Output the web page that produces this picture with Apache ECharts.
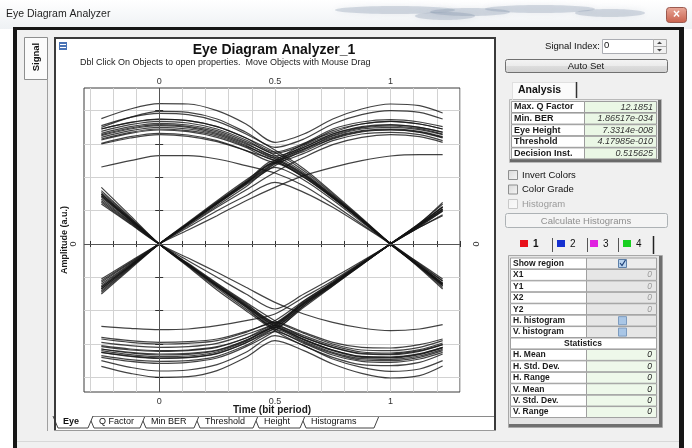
<!DOCTYPE html>
<html>
<head>
<meta charset="utf-8">
<script src="https://cdn.jsdelivr.net/npm/echarts@6/dist/echarts.min.js"></script>
<style>
html,body{margin:0;padding:0;background:#fff;}
#chart{width:692px;height:448px;}
</style>
</head>
<body>
<div id="chart"></div>
<script>
// Sample instants of every trace, in bit periods
const timeSamples = [-0.25, -0.125, 0, 0.125, 0.25, 0.375, 0.5, 0.625, 0.75, 0.875, 1, 1.125, 1.225];

// Traces grouped by the bit pattern they carry (previous, current, next)
const holdHigh = [
  [3.76, 4.05, 4.21, 4.2, 4.0, 3.6, 3.05, 3.3, 3.75, 4.05, 4.2, 4.15, 3.93],
  [3.5, 3.8, 3.98, 3.95, 3.75, 3.35, 2.9, 3.15, 3.6, 3.88, 4.0, 3.95, 3.75],
  [3.38, 3.58, 3.68, 3.63, 3.45, 3.12, 2.72, 2.98, 3.4, 3.6, 3.68, 3.6, 3.45],
  [3.28, 3.48, 3.58, 3.53, 3.36, 3.03, 2.64, 2.9, 3.3, 3.5, 3.57, 3.5, 3.36],
  [3.2, 3.4, 3.5, 3.45, 3.28, 2.96, 2.58, 2.85, 3.24, 3.45, 3.5, 3.43, 3.28],
  [3.12, 3.32, 3.42, 3.37, 3.2, 2.9, 2.52, 2.78, 3.17, 3.38, 3.43, 3.36, 3.2],
  [3.02, 3.22, 3.32, 3.27, 3.1, 2.8, 2.45, 2.72, 3.1, 3.3, 3.35, 3.28, 3.1],
  [3.45, 3.64, 3.74, 3.7, 3.52, 3.18, 2.76, 3.02, 3.45, 3.66, 3.73, 3.66, 3.52]
];
const highThenFall = [
  [2.31, 2.5, 2.65, 2.65, 2.55, 2.35, 2.13, 1.75, 1.2, 0.6, 0.02, -0.6, -1.1],
  [3.25, 3.45, 3.55, 3.5, 3.32, 3.0, 2.6, 2.1, 1.42, 0.72, 0.0, -0.65, -1.18],
  [3.0, 3.18, 3.28, 3.23, 3.07, 2.8, 2.5, 2.0, 1.38, 0.7, -0.02, -0.68, -1.22],
  [3.45, 3.65, 3.75, 3.7, 3.52, 3.18, 2.75, 2.2, 1.5, 0.76, 0.01, -0.7, -1.3],
  [3.15, 3.35, 3.45, 3.4, 3.24, 2.93, 2.56, 2.06, 1.4, 0.71, 0.0, -0.72, -1.35],
  [3.32, 3.52, 3.62, 3.57, 3.4, 3.07, 2.66, 2.14, 1.46, 0.74, 0.0, -0.67, -1.25],
  [3.55, 3.8, 3.92, 3.88, 3.68, 3.3, 2.82, 2.26, 1.54, 0.78, 0.01, -0.66, -1.2]
];
const riseThenHigh = [
  [-1.05, -0.52, 0.0, 0.42, 0.85, 1.3, 1.7, 2.05, 2.3, 2.5, 2.64, 2.68, 2.68],
  [-1.25, -0.62, 0.0, 0.6, 1.2, 1.8, 2.4, 2.85, 3.2, 3.4, 3.45, 3.38, 3.22],
  [-1.4, -0.7, 0.0, 0.62, 1.25, 1.85, 2.45, 2.95, 3.3, 3.52, 3.58, 3.5, 3.35],
  [-1.15, -0.57, 0.0, 0.55, 1.1, 1.62, 2.15, 2.6, 2.98, 3.2, 3.28, 3.22, 3.05],
  [-1.5, -0.75, 0.0, 0.65, 1.3, 1.92, 2.5, 3.0, 3.35, 3.6, 3.68, 3.6, 3.45],
  [-1.3, -0.65, 0.0, 0.6, 1.2, 1.78, 2.35, 2.82, 3.15, 3.36, 3.42, 3.35, 3.18],
  [-1.35, -0.68, 0.0, 0.61, 1.23, 1.83, 2.42, 2.9, 3.26, 3.48, 3.54, 3.46, 3.3]
];
const riseThenFall = [
  [-1.3, -0.65, 0.0, 0.6, 1.22, 1.82, 2.42, 2.0, 1.38, 0.7, 0.0, -0.65, -1.18],
  [-1.2, -0.6, 0.0, 0.58, 1.15, 1.72, 2.3, 1.92, 1.32, 0.66, 0.01, -0.62, -1.12],
  [-1.45, -0.72, 0.0, 0.63, 1.27, 1.88, 2.5, 2.08, 1.45, 0.74, 0.0, -0.68, -1.25],
  [-1.1, -0.55, 0.0, 0.5, 1.0, 1.45, 1.85, 1.55, 1.1, 0.56, 0.0, -0.58, -1.05],
  [-1.35, -0.67, 0.0, 0.61, 1.24, 1.85, 2.45, 2.03, 1.41, 0.72, 0.0, -0.66, -1.2]
];
const holdLow = [
  [-3.67, -3.88, -4.0, -3.98, -3.8, -3.4, -2.9, -3.2, -3.6, -3.88, -4.02, -3.95, -3.66],
  [-3.5, -3.7, -3.81, -3.78, -3.62, -3.25, -2.75, -3.05, -3.45, -3.7, -3.82, -3.75, -3.5],
  [-3.35, -3.47, -3.52, -3.5, -3.37, -3.04, -2.63, -2.98, -3.33, -3.52, -3.55, -3.45, -3.25],
  [-3.25, -3.37, -3.43, -3.41, -3.29, -2.97, -2.56, -2.92, -3.25, -3.44, -3.46, -3.36, -3.16],
  [-3.15, -3.27, -3.33, -3.31, -3.2, -2.9, -2.5, -2.86, -3.18, -3.37, -3.39, -3.29, -3.1],
  [-3.05, -3.15, -3.2, -3.18, -3.08, -2.82, -2.45, -2.8, -3.1, -3.28, -3.3, -3.2, -3.02],
  [-2.85, -2.95, -3.0, -2.98, -2.9, -2.65, -2.35, -2.65, -2.95, -3.1, -3.12, -3.02, -2.85],
  [-3.2, -3.32, -3.38, -3.36, -3.24, -2.92, -2.52, -2.88, -3.2, -3.4, -3.42, -3.32, -3.12]
];
const lowThenRise = [
  [-2.47, -2.53, -2.57, -2.55, -2.45, -2.3, -2.1, -1.6, -1.1, -0.55, 0.0, 0.5, 0.85],
  [-3.15, -3.25, -3.3, -3.28, -3.18, -2.88, -2.45, -1.8, -1.2, -0.6, 0.0, 0.58, 1.05],
  [-2.95, -3.05, -3.1, -3.08, -2.98, -2.72, -2.38, -1.75, -1.17, -0.58, 0.01, 0.6, 1.12],
  [-3.4, -3.52, -3.58, -3.55, -3.42, -3.08, -2.6, -1.9, -1.26, -0.62, 0.0, 0.62, 1.2],
  [-2.8, -2.9, -2.95, -2.93, -2.85, -2.62, -2.3, -1.7, -1.14, -0.57, 0.0, 0.55, 0.98],
  [-3.25, -3.36, -3.42, -3.4, -3.28, -2.96, -2.52, -1.85, -1.22, -0.61, 0.0, 0.6, 1.1],
  [-3.08, -3.18, -3.22, -3.2, -3.1, -2.82, -2.42, -1.78, -1.19, -0.59, 0.0, 0.57, 1.02]
];
const fallThenLow = [
  [1.2, 0.6, 0.0, -0.42, -0.85, -1.3, -1.75, -2.1, -2.35, -2.52, -2.6, -2.55, -2.42],
  [1.45, 0.72, 0.0, -0.62, -1.25, -1.85, -2.42, -2.8, -3.1, -3.3, -3.32, -3.22, -3.02],
  [1.6, 0.8, 0.0, -0.66, -1.32, -1.95, -2.55, -2.95, -3.28, -3.48, -3.5, -3.4, -3.2],
  [1.3, 0.65, 0.0, -0.58, -1.18, -1.75, -2.3, -2.68, -3.0, -3.18, -3.2, -3.1, -2.9],
  [1.7, 0.85, 0.0, -0.68, -1.38, -2.0, -2.6, -3.05, -3.4, -3.62, -3.65, -3.55, -3.3],
  [1.5, 0.75, 0.0, -0.63, -1.27, -1.88, -2.47, -2.86, -3.18, -3.38, -3.4, -3.3, -3.1],
  [1.4, 0.7, 0.0, -0.61, -1.22, -1.81, -2.38, -2.75, -3.05, -3.24, -3.27, -3.17, -2.97]
];
const fallThenRise = [
  [1.45, 0.72, 0.0, -0.62, -1.24, -1.83, -2.4, -1.77, -1.2, -0.6, 0.0, 0.55, 1.05],
  [1.35, 0.67, 0.0, -0.6, -1.2, -1.78, -2.35, -1.72, -1.16, -0.58, 0.0, 0.52, 1.0],
  [1.55, 0.78, 0.0, -0.64, -1.28, -1.9, -2.5, -1.85, -1.25, -0.63, 0.01, 0.62, 1.25],
  [1.25, 0.62, 0.0, -0.5, -1.0, -1.5, -1.95, -1.5, -1.02, -0.52, 0.0, 0.5, 0.88],
  [1.5, 0.75, 0.0, -0.63, -1.26, -1.86, -2.45, -1.81, -1.22, -0.61, 0.0, 0.58, 1.12]
];

// Axis ticks and labels
const timeTicks = [-0.3, -0.2, -0.1, 0, 0.1, 0.2, 0.3, 0.4, 0.5, 0.6, 0.7, 0.8, 0.9, 1, 1.1, 1.2, 1.3];
const timeLabels = [0, 0.5, 1];
const ampTicks = [-4, -3, -2, -1, 0, 1, 2, 3, 4];
const ampLabels = [0];

// Side panel contents
const analysisNames = ['Max. Q Factor', 'Min. BER', 'Eye Height', 'Threshold', 'Decision Inst.'];
const analysisValues = ['12.1851', '1.86517e-034', '7.3314e-008', '4.17985e-010', '0.515625'];
const optionNames = ['Invert Colors', 'Color Grade', 'Histogram'];
const regionTabs = ['1', '2', '3', '4'];
const regionColors = ['#e8101a', '#1530d0', '#e020e0', '#18d020'];
const regionNames = ['X1', 'Y1', 'X2', 'Y2'];
const regionValues = ['0', '0', '0', '0'];
const histNames = ['H. histogram', 'V. histogram'];
const statNames = ['H. Mean', 'H. Std. Dev.', 'H. Range', 'V. Mean', 'V. Std. Dev.', 'V. Range'];
const statValues = ['0', '0', '0', '0', '0', '0'];
const viewTabs = ['Eye', 'Q Factor', 'Min BER', 'Threshold', 'Height', 'Histograms'];

const FONT = '"Liberation Sans", Arial, sans-serif';
const ui = [];
function box(x, y, w, h, fill, stroke, z, extra) {
  const o = stroke ? 0.5 : 0;
  ui.push(Object.assign({
    type: 'rect', silent: true, z: z == null ? 10 : z,
    shape: { x: x + o, y: y + o, width: w, height: h },
    style: { fill: fill || 'none', stroke: stroke || null, lineWidth: 1 }
  }, extra || {}));
}
function seg(x1, y1, x2, y2, color, w, z) {
  ui.push({ type: 'line', silent: true, z: z == null ? 12 : z,
    shape: { x1: x1, y1: y1, x2: x2, y2: y2 },
    style: { stroke: color, lineWidth: w || 1 } });
}
function txt(x, y, text, size, color, align, weight, extra, italic) {
  ui.push(Object.assign({
    type: 'text', silent: true, z: 20, x: x, y: y,
    style: {
      text: text, fill: color || '#000',
      font: (italic ? 'italic ' : '') + (weight || 'normal') + ' ' + size + 'px ' + FONT,
      align: align || 'left', textAlign: align || 'left',
      verticalAlign: 'middle', textVerticalAlign: 'middle'
    }
  }, extra || {}));
}
function checkbox(x, y, enabled) {
  box(x, y, 9, 9, new echarts.graphic.LinearGradient(0, 0, 1, 1, [
    { offset: 0, color: enabled ? '#d8d8d8' : '#f2f2f2' },
    { offset: 1, color: enabled ? '#f6f6f6' : '#fafafa' }]), enabled ? '#8e8f8f' : '#c8c8c8', 14);
}

// Window frame and title bar
box(0, 0, 692, 29, new echarts.graphic.LinearGradient(0, 0, 0, 1, [
  { offset: 0, color: '#ffffff' }, { offset: 1, color: '#eef1f4' }]), null, -20);
[[395, 10, 60], [470, 12, 40], [540, 9, 55], [610, 13, 35], [445, 16, 30]].forEach(function (s) {
  ui.push({ type: 'ellipse', silent: true, z: -19,
    shape: { cx: s[0], cy: s[1], rx: s[2], ry: 4 },
    style: { fill: 'rgba(120,135,160,0.28)', shadowBlur: 6, shadowColor: 'rgba(120,135,160,0.4)' } });
});
txt(6, 14, 'Eye Diagram Analyzer', 10.5, '#1e1e1e');
ui.push({ type: 'rect', silent: true, z: 14, shape: { x: 666.5, y: 7.5, width: 20, height: 15, r: 3 },
  style: { fill: new echarts.graphic.LinearGradient(0, 0, 0, 1, [
    { offset: 0, color: '#e9a99a' }, { offset: 1, color: '#c8604c' }]), stroke: '#9b5a50', lineWidth: 1 } });
txt(676.5, 15, '×', 12, '#ffffff', 'center', 'bold');
box(13, 28, 671, 420, '#f0f0f0', null, -20);
box(13, 28, 4, 420, '#161616', null, -18);
box(679, 28, 5, 420, '#161616', null, -18);
box(13, 27, 671, 3, '#161616', null, -18);
box(17, 441, 662, 1, '#d8d8d8', null, -18);

// Vertical "Signal" tab
box(24, 37, 23, 42, '#fbfbfb', '#8e8f8f', 5);
seg(47.5, 79, 47.5, 431, '#a0a0a0', 1, 5);
txt(36, 57, 'Signal', 9.5, '#111', 'center', 'bold', { rotation: Math.PI / 2 });

// Plot panel
box(54, 37, 442, 394, '#ffffff', null, -15);
box(54, 37, 442, 2, '#3a3a3a', null, 16);
box(54, 37, 2, 394, '#3a3a3a', null, 16);
box(494, 37, 2, 394, '#3a3a3a', null, 16);
box(54, 430, 442, 1, '#9a9a9a', null, 16);
box(59, 42, 8, 8, '#4a73b5', null, 16);
box(60, 44, 6, 1, '#ffffff', null, 17);
box(60, 47, 6, 1, '#ffffff', null, 17);
txt(274, 50, 'Eye Diagram Analyzer_1', 14, '#111', 'center', 'bold');
txt(80, 63, 'Dbl Click On Objects to open properties.  Move Objects with Mouse Drag', 9, '#222');

// View tabs along the bottom of the plot panel
const tabEdges = [55, 91, 143, 197, 256, 303, 377];
box(56, 416, 438, 13, '#ffffff', null, 5);
seg(56, 416.5, 494, 416.5, '#8a8a8a', 1, 12);
viewTabs.forEach(function (name, i) {
  const a = tabEdges[i], b = tabEdges[i + 1];
  ui.push({ type: 'polyline', silent: true, z: i === 0 ? 14 : 12 - i * 0.1,
    shape: { points: [[a - 2, 416], [a + 3, 428], [b - 3, 428], [b + 2, 416]] },
    style: { stroke: '#444', lineWidth: 1, fill: '#ffffff' } });
  txt(a + 8, 422, name, 9, '#111', 'left', i === 0 ? 'bold' : 'normal');
});

// Right-hand control panel
txt(600, 46, 'Signal Index:', 9.5, '#111', 'right');
box(602, 39, 51, 14, '#ffffff', '#abadb3', 10);
txt(604, 45, '0', 9.5, '#111');
box(653, 39, 13, 14, '#f1f1f1', '#acacac', 10);
seg(654, 46.5, 666, 46.5, '#acacac', 1);
ui.push({ type: 'polygon', silent: true, z: 14, shape: { points: [[657, 44], [662, 44], [659.5, 41.5]] }, style: { fill: '#444' } });
ui.push({ type: 'polygon', silent: true, z: 14, shape: { points: [[657, 49], [662, 49], [659.5, 51.5]] }, style: { fill: '#444' } });

function button(x, y, w, h, label, enabled) {
  ui.push({ type: 'rect', silent: true, z: 10,
    shape: { x: x + 0.5, y: y + 0.5, width: w, height: h, r: 2 },
    style: { fill: new echarts.graphic.LinearGradient(0, 0, 0, 1, enabled ?
      [{ offset: 0, color: '#f5f5f5' }, { offset: 0.5, color: '#ebebeb' }, { offset: 0.51, color: '#dddddd' }, { offset: 1, color: '#d0d0d0' }] :
      [{ offset: 0, color: '#f4f4f4' }, { offset: 1, color: '#f4f4f4' }]),
      stroke: enabled ? '#707070' : '#adb2b5', lineWidth: 1 } });
  txt(x + w / 2, y + h / 2 + 1, label, 9.5, enabled ? '#111' : '#8f8f8f', 'center');
}
button(505, 59, 162, 13, 'Auto Set', true);

// Analysis tab and result table
box(512, 82, 64, 18, '#fbfbfb', null, 8);
seg(512.5, 82, 512.5, 100, '#e0e0e0');
seg(512, 82.5, 576, 82.5, '#e0e0e0');
seg(576.5, 82, 576.5, 98, '#333', 1.5);
txt(518, 90, 'Analysis', 10.5, '#111', 'left', 'bold');
box(509, 99, 152, 63, '#e8e8e8', '#b9b9b9', 8);
box(658, 100, 3, 62, '#6a6a6a', null, 9);
box(510, 159, 151, 3, '#6a6a6a', null, 9);
analysisNames.forEach(function (name, i) {
  const y = 101 + i * 11.6;
  box(511, y, 73, 11, '#ffffff', '#9c9c9c', 10);
  box(584, y, 72, 11, '#eaf7e5', '#9c9c9c', 10);
  txt(514, y + 6, name, 9, '#1a1a1a', 'left', 'bold');
  txt(653, y + 6, analysisValues[i], 9, '#333', 'right', 'normal', null, true);
});

// Display options
optionNames.forEach(function (name, i) {
  const y = 170 + i * 14.5;
  checkbox(508, y, i < 2);
  txt(522, y + 5, name, 9.5, i < 2 ? '#111' : '#9a9a9a');
});
button(505, 213, 162, 14, 'Calculate Histograms', false);

// Region colour tabs
const regionTabX = [520, 557, 590, 623];
regionTabs.forEach(function (t, i) {
  const x = regionTabX[i];
  box(x, 240, 8, 7, regionColors[i], null, 14);
  txt(x + 13, 244, t, 10, '#111', 'left', i === 0 ? 'bold' : 'normal');
});
[552, 587, 618].forEach(function (x) { seg(x + 0.5, 238, x + 0.5, 252, '#555', 1); });
seg(653.5, 236, 653.5, 254, '#222', 1.5);

// Region table
box(508, 255, 154, 172, '#e4e4e4', '#a8a8a8', 8);
box(659, 256, 3, 171, '#6f6f6f', null, 9);
box(509, 424, 153, 3, '#6f6f6f', null, 9);
const rowH = 11.43;
function regionRow(i, name, valueFill, valueText, valueColor) {
  const y = 257.5 + i * rowH;
  box(510, y, 76, rowH - 0.5, '#ffffff', '#a0a0a0', 10);
  box(586, y, 70, rowH - 0.5, valueFill, '#a0a0a0', 10);
  txt(513, y + 6, name, 8.5, '#1a1a1a', 'left', 'bold');
  if (valueText) txt(652, y + 6, valueText, 8.5, valueColor, 'right', 'normal', null, true);
  return y;
}
const yShow = regionRow(0, 'Show region', '#ececec', null);
box(618, yShow + 1.5, 8, 8, '#b9d3ee', '#5d7fa8', 14);
ui.push({ type: 'polyline', silent: true, z: 15, shape: { points: [[620, yShow + 5.5], [622, yShow + 8], [625.5, yShow + 2.5]] }, style: { stroke: '#1c3f78', lineWidth: 1.2, fill: 'none' } });
regionNames.forEach(function (n, i) { regionRow(1 + i, n, '#e6e6e6', regionValues[i], '#9a9a9a'); });
histNames.forEach(function (n, i) {
  const y = regionRow(5 + i, n, '#e6e6e6', null);
  box(618, y + 1.5, 8, 8, '#a9c6e6', '#7d9cc0', 14);
});
const yStat = 257.5 + 7 * rowH;
box(510, yStat, 146, rowH - 0.5, '#ffffff', '#a0a0a0', 10);
txt(583, yStat + 6, 'Statistics', 8.5, '#1a1a1a', 'center', 'bold');
statNames.forEach(function (n, i) { regionRow(8 + i, n, '#eef8ea', statValues[i], '#222'); });

// Eye traces drawn on the time / amplitude axes
const traceGroups = [holdHigh, highThenFall, riseThenHigh, riseThenFall, holdLow, lowThenRise, fallThenLow, fallThenRise];
const series = [{
  type: 'line', data: [], silent: true, z: 1,
  markLine: {
    silent: true, symbol: ['none', 'none'], label: { show: false },
    lineStyle: { color: '#555', width: 1, type: 'solid' },
    data: [{ xAxis: 0 }, { yAxis: 0 }]
  }
}];
traceGroups.forEach(function (group) {
  group.forEach(function (trace) {
    series.push({
      type: 'line', silent: true, symbol: 'none', smooth: 0.3,
      data: trace.map(function (v, i) { return [timeSamples[i], v]; }),
      lineStyle: { color: '#141414', width: 1.2, opacity: 0.8 },
      z: 3
    });
  });
});

const tickStyle = { color: '#333', width: 1 };
const labelStyle = { color: '#333', fontSize: 9, fontFamily: FONT };
const chart = echarts.init(document.getElementById('chart'), null, { renderer: 'canvas' });
chart.setOption({
  animation: false,
  backgroundColor: '#ffffff',
  grid: { left: 84, top: 88, width: 376, height: 304, show: true, borderColor: '#3a3a3a', borderWidth: 1, backgroundColor: 'transparent' },
  xAxis: [{
    type: 'value', position: 'bottom', min: -0.325, max: 1.3,
    axisLine: { show: false },
    axisTick: { show: true, inside: true, length: 3, customValues: timeTicks, lineStyle: tickStyle },
    axisLabel: Object.assign({ customValues: timeLabels, margin: 5 }, labelStyle),
    splitLine: { show: true, lineStyle: { color: '#d2d2d2', width: 1 } },
    name: 'Time (bit period)', nameLocation: 'middle', nameGap: 13, nameMoveOverlap: false,
    nameTextStyle: { fontWeight: 'bold', fontSize: 10, color: '#1a1a1a', fontFamily: FONT }
  }, {
    type: 'value', position: 'top', min: -0.325, max: 1.3,
    axisLine: { show: false },
    axisTick: { show: true, inside: true, length: 3, customValues: timeTicks, lineStyle: tickStyle },
    axisLabel: Object.assign({ customValues: timeLabels, margin: 2 }, labelStyle),
    splitLine: { show: false }
  }],
  yAxis: [{
    type: 'value', position: 'left', min: -4.44, max: 4.68,
    axisLine: { show: false },
    axisTick: { show: true, inside: true, length: 4, customValues: ampTicks, lineStyle: tickStyle },
    axisLabel: Object.assign({ customValues: ampLabels, margin: 6, rotate: 90 }, labelStyle),
    splitLine: { show: true, lineStyle: { color: '#d2d2d2', width: 1 } },
    name: 'Amplitude (a.u.)', nameLocation: 'middle', nameGap: 15, nameRotate: 90, nameMoveOverlap: false,
    nameTextStyle: { fontWeight: 'bold', fontSize: 9, color: '#1a1a1a', fontFamily: FONT }
  }, {
    type: 'value', position: 'right', min: -4.44, max: 4.68,
    axisLine: { show: false },
    axisTick: { show: true, inside: true, length: 4, customValues: ampTicks, lineStyle: tickStyle },
    axisLabel: Object.assign({ customValues: ampLabels, margin: 11, rotate: -90 }, labelStyle),
    splitLine: { show: false }
  }],
  graphic: { elements: ui },
  series: series
});
</script>
</body>
</html>
